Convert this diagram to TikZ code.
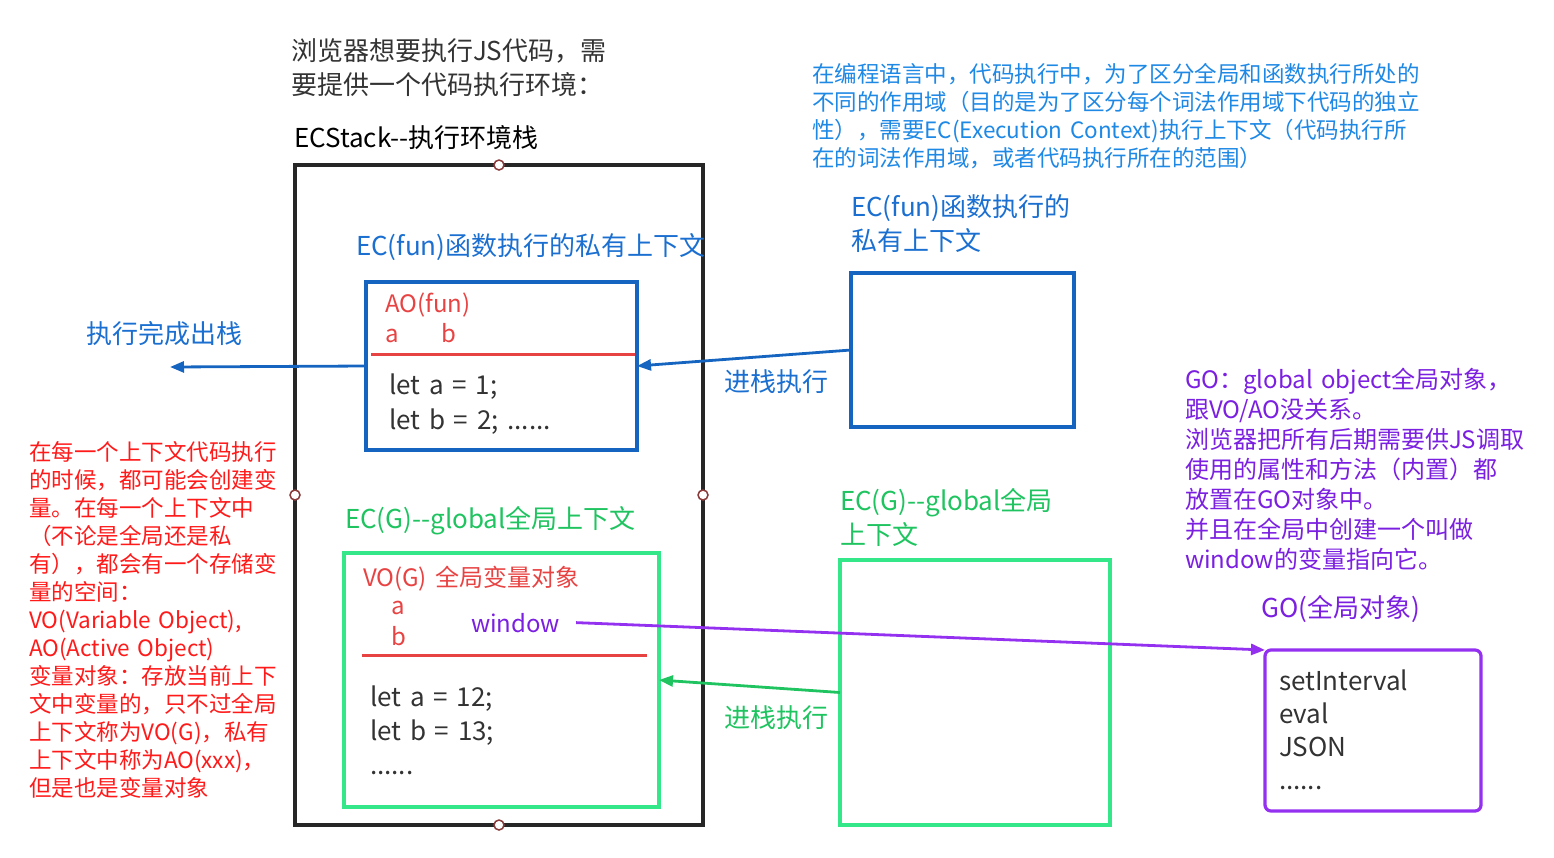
\documentclass[tikz,border=0pt]{standalone}
\usepackage{fontspec}
\setmainfont{Noto Sans CJK SC}[WordSpace=1.5]
\usetikzlibrary{arrows.meta}
\definecolor{txtgray}{HTML}{333333}
\definecolor{bluebox}{HTML}{1565C0}
\definecolor{bluetxt}{HTML}{1A6FD0}
\definecolor{bluelite}{HTML}{1E88E5}
\definecolor{greentxt}{HTML}{1FC460}
\definecolor{greenbox}{HTML}{34E88A}
\definecolor{purp}{HTML}{7B1FE0}
\definecolor{purpbox}{HTML}{9430F0}
\definecolor{redtxt}{HTML}{FF1A1A}
\definecolor{redin}{HTML}{E84343}
\definecolor{knob}{HTML}{8B3A3A}
\newcommand\fsA{\fontsize{26}{34}\selectfont}
\newcommand\fsAc{\fontsize{26}{35}\selectfont}
\newcommand\fsAg{\fontsize{26}{33}\selectfont}
\newcommand\fsB{\fontsize{24}{30}\selectfont}
\newcommand\fsC{\fontsize{22.5}{28}\selectfont}
\begin{document}
\begin{tikzpicture}[x=1pt,y=-1pt,
  every node/.style={inner sep=0pt, outer sep=0pt},
  lbl/.style={anchor=base west, align=left},
  frame/.style={draw, line width=3.2pt, rectangle, inner sep=0pt},
  knobc/.style={circle, draw=knob, fill=white, line width=1.5pt, minimum size=10pt},
  tip/.style={-{Triangle[length=14pt,width=11pt]}, line width=2.8pt}
]
\useasboundingbox (0,0) rectangle (1554,857);

% header texts (base anchor = baseline of last line)
\node[lbl, text=txtgray, font=\fsA] (hdr) at (291,94) {浏览器想要执行JS代码，需\\要提供一个代码执行环境：};
\node[lbl, text=black, font=\fsA] (ecs) at (294,147) {ECStack-{}-执行环境栈};

% stack frame
\node[frame, draw=black!85, minimum width=408pt, minimum height=660pt] (stack) at (499,495) {};
\node[knobc] (k1) at (stack.north) {};
\node[knobc] (k2) at (stack.south) {};
\node[knobc] (k3) at (stack.west) {};
\node[knobc] (k4) at (stack.east) {};

% EC(fun) inside stack
\node[lbl, text=bluetxt, font=\fsA] (funlbl) at (356,255) {EC(fun)函数执行的私有上下文};
\node[frame, draw=bluebox, minimum width=271pt, minimum height=168pt] (fbox) at (501.5,366) {};
\node[lbl, text=redin, font=\fsB] (ao) at (385,312) {AO(fun)};
\node[lbl, text=redin, font=\fsB] (aoa) at (385,342) {a};
\node[lbl, text=redin, font=\fsB] (aob) at (441,342) {b};
\coordinate (fl1) at (371,354);
\coordinate (fl2) at (635,354);
\draw[redin, line width=3pt] (fl1) -- (fl2);
\node[lbl, text=txtgray, font=\fsAc] (fcode) at (389,429) {let a = 1;\\let b = 2; ......};

% exit arrow
\coordinate (exitpt) at (170,367);
\draw[tip, bluebox] (fbox.west) -- (exitpt);
\node[lbl, text=bluetxt, font=\fsA] (exitlbl) at (86,343) {执行完成出栈};

% right EC(fun)
\node[lbl, text=bluetxt, font=\fsA] (rfunlbl) at (851,250) {EC(fun)函数执行的\\私有上下文};
\node[frame, draw=bluebox, minimum width=223pt, minimum height=154pt] (rbox) at (962.5,350) {};
\draw[tip, bluebox] (rbox.west) -- (fbox.east);
\node[lbl, text=bluetxt, font=\fsA] (push1) at (724,391) {进栈执行};

% top right explanation
\node[lbl, text=bluelite, font=\fsC] (expl) at (812,166) {在编程语言中，代码执行中，为了区分全局和函数执行所处的\\不同的作用域（目的是为了区分每个词法作用域下代码的独立\\性），需要EC(Execution Context)执行上下文（代码执行所\\在的词法作用域，或者代码执行所在的范围）};

% EC(G) inside stack
\node[lbl, text=greentxt, font=\fsA] (glbl) at (345,528) {EC(G)-{}-global全局上下文};
\node[frame, draw=greenbox, minimum width=315pt, minimum height=254pt] (gbox) at (501.5,680) {};
\node[lbl, text=redin, font=\fsB] (vo) at (363,586) {VO(G) 全局变量对象};
\node[lbl, text=redin, font=\fsB] (voa) at (391,614) {a};
\node[lbl, text=redin, font=\fsB] (vob) at (391,645) {b};
\node[lbl, text=purp, font=\fsB] (win) at (471,632) {window};
\coordinate (gl1) at (362,655);
\coordinate (gl2) at (647,655);
\draw[redin, line width=3pt] (gl1) -- (gl2);
\node[lbl, text=txtgray, font=\fsA] (gcode) at (370,774) {let a = 12;\\let b = 13;\\......};

% right EC(G)
\node[lbl, text=greentxt, font=\fsA] (rglbl) at (840,544) {EC(G)-{}-global全局\\上下文};
\node[frame, draw=greenbox, minimum width=270pt, minimum height=265pt] (rgbox) at (975,692.5) {};
\draw[tip, greentxt] (rgbox.west) -- (gbox.east);
\node[lbl, text=greentxt, font=\fsA] (push2) at (724,727) {进栈执行};

% left red notes
\node[lbl, text=redtxt, font=\fsC] (notes) at (29,796) {在每一个上下文代码执行\\的时候，都可能会创建变\\量。在每一个上下文中\\（不论是全局还是私\\有），都会有一个存储变\\量的空间：\\VO(Variable Object),\\AO(Active Object)\\变量对象：存放当前上下\\文中变量的，只不过全局\\上下文称为VO(G)，私有\\上下文中称为AO(xxx)，\\但是也是变量对象};

% GO
\node[lbl, text=purp, font=\fsB] (gonote) at (1185,568) {GO：global object全局对象，\\跟VO/AO没关系。\\浏览器把所有后期需要供JS调取\\使用的属性和方法（内置）都\\放置在GO对象中。\\并且在全局中创建一个叫做\\window的变量指向它。};
\node[anchor=base, text=purp, font=\fsA] (golbl) at (1341,617) {GO(全局对象)};
\node[draw=purpbox, line width=3.2pt, rounded corners=6pt, minimum width=216pt, minimum height=161pt] (gobox) at (1373,730.5) {};
\node[lbl, text=txtgray, font=\fsAg] (gocode) at (1279,789) {setInterval\\eval\\JSON\\......};
\draw[tip, purpbox] ([xshift=16pt]win.east) -- (gobox.north west);
\end{tikzpicture}
\end{document}
